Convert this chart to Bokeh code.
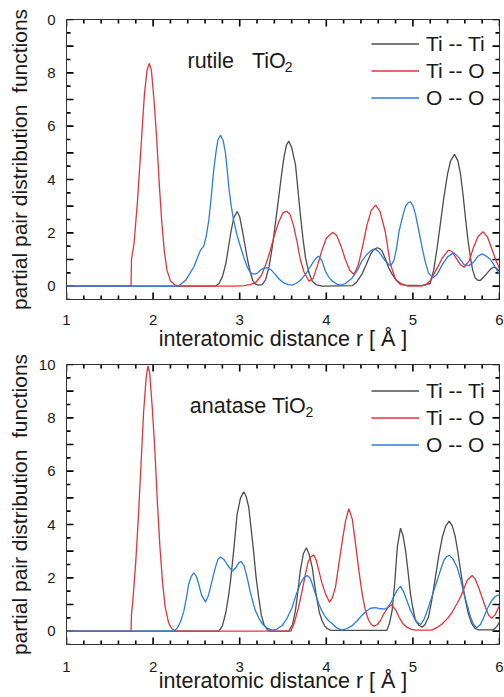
import numpy as np
from bokeh.plotting import figure
from bokeh.layouts import column
from bokeh.models import (FixedTicker, Range1d, Legend, LegendItem, Label, ColumnDataSource)
from bokeh.embed import file_html
from bokeh.resources import INLINE

# ---------------- data ----------------
series_labels = ["Ti -- Ti", "Ti -- O", "O -- O"]
panel_names = ["rutile\u00a0\u00a0\u00a0TiO", "anatase TiO"]
x_title = "interatomic distance r [ \u00c5 ]"
y_title = "partial pair distribution\u00a0 functions"

rut_titi_x = [1.0, 2.72, 2.76, 2.80, 2.84, 2.87, 2.90, 2.93, 2.97, 3.00, 3.03, 3.06, 3.09, 3.12, 3.15, 3.18, 3.22,
              3.26, 3.30, 3.34, 3.375, 3.41, 3.45, 3.48, 3.51, 3.54, 3.567, 3.60, 3.644, 3.67, 3.70, 3.73, 3.76, 3.80,
              3.837, 3.88, 3.95, 4.30, 4.35, 4.41, 4.46, 4.51, 4.55, 4.59, 4.62, 4.645, 4.68, 4.72, 4.76, 4.80, 4.86,
              4.91, 5.10, 5.20, 5.24, 5.28, 5.32, 5.357, 5.40, 5.434, 5.48, 5.52, 5.55, 5.58, 5.607, 5.635, 5.665,
              5.69, 5.72, 5.75, 5.78, 5.82, 5.86, 5.90, 5.93, 5.96, 6.0]
rut_titi_y = [0.0, 0.0, 0.1, 0.35, 0.85, 1.45, 2.05, 2.55, 2.80, 2.60, 2.10, 1.55, 1.00, 0.55, 0.22, 0.08, 0.04,
              0.06, 0.25, 0.75, 1.44, 2.3, 3.31, 4.1, 4.81, 5.3, 5.44, 5.2, 4.56, 3.7, 2.69, 1.8, 1.06, 0.5,
              0.19, 0.06, 0.0, 0.02, 0.15, 0.44, 0.8, 1.19, 1.38, 1.44, 1.4, 1.31, 1.05, 0.69, 0.45, 0.25, 0.1,
              0.04, 0.02, 0.1, 0.6, 1.44, 2.4, 3.31, 4.2, 4.69, 4.94, 4.7, 4.19, 3.4, 2.56, 1.75, 1.06,
              0.6, 0.31, 0.22, 0.22, 0.35, 0.5, 0.65, 0.71, 0.68, 0.56]

rut_tio_x = [1.0, 1.745, 1.75, 1.78, 1.82, 1.86, 1.90, 1.93, 1.955, 1.98, 2.01, 2.04, 2.07, 2.10, 2.13, 2.16, 2.20,
             2.25, 2.30, 2.95, 3.05, 3.12, 3.18, 3.25, 3.30, 3.35, 3.40, 3.45, 3.50, 3.54, 3.58, 3.62, 3.66, 3.70,
             3.74, 3.80, 3.85, 3.90, 3.95, 4.00, 4.075, 4.12, 4.17, 4.22, 4.27, 4.32, 4.37, 4.42, 4.47, 4.52, 4.57,
             4.62, 4.68, 4.74, 4.80, 4.85, 4.95, 5.10, 5.15, 5.20, 5.24, 5.30, 5.34, 5.41, 5.45, 5.50, 5.55, 5.59,
             5.65, 5.70, 5.75, 5.81, 5.86, 5.90, 5.95, 6.0]
rut_tio_y = [0.0, 0.0, 1.0, 1.6, 3.2, 5.2, 7.2, 8.1, 8.35, 8.1, 7.0, 5.6, 3.9, 2.4, 1.3, 0.6, 0.2,
             0.05, 0.0, 0.0, 0.02, 0.06, 0.12, 0.4, 0.8, 1.3, 1.9, 2.4, 2.75, 2.81, 2.7, 2.3, 1.7, 1.0,
             0.55, 0.19, 0.3, 0.8, 1.35, 1.8, 2.02, 1.9, 1.5, 1.0, 0.6, 0.44, 0.8, 1.5, 2.3, 2.85, 3.04,
             2.8, 2.06, 0.82, 0.25, 0.08, 0.0, 0.01, 0.05, 0.2, 0.44, 0.8, 1.06, 1.35, 1.3, 1.05, 0.8, 0.71,
             0.95, 1.45, 1.85, 2.04, 1.85, 1.5, 1.05, 0.64]

rut_oo_x = [1.0, 2.29, 2.33, 2.374, 2.42, 2.47, 2.51, 2.547, 2.585, 2.615, 2.643, 2.67, 2.70, 2.725, 2.747, 2.778,
            2.81, 2.836, 2.855, 2.874, 2.90, 2.93, 2.97, 3.01, 3.05, 3.087, 3.115, 3.144, 3.17, 3.20, 3.24, 3.28,
            3.317, 3.36, 3.41, 3.46, 3.51, 3.56, 3.606, 3.65, 3.70, 3.76, 3.81, 3.856, 3.89, 3.913, 3.95, 3.99,
            4.03, 4.07, 4.12, 4.164, 4.22, 4.30, 4.36, 4.41, 4.47, 4.53, 4.57, 4.61, 4.645, 4.68, 4.72, 4.745,
            4.78, 4.81, 4.84, 4.88, 4.915, 4.95, 4.972, 5.0, 5.03, 5.07, 5.107, 5.14, 5.18, 5.23, 5.28, 5.34,
            5.40, 5.47, 5.53, 5.59, 5.645, 5.70, 5.75, 5.80, 5.85, 5.896, 5.95, 6.0]
rut_oo_y = [0.0, 0.0, 0.1, 0.22, 0.45, 0.72, 1.05, 1.35, 1.5, 1.9, 2.47, 3.3, 4.35, 5.0, 5.47, 5.66,
            5.45, 4.98, 4.4, 3.72, 3.05, 2.47, 1.9, 1.47, 1.05, 0.72, 0.55, 0.47, 0.45, 0.48, 0.6, 0.68,
            0.69, 0.62, 0.44, 0.25, 0.12, 0.06, 0.04, 0.1, 0.22, 0.44, 0.7, 0.94, 1.08, 1.12, 0.95, 0.56,
            0.33, 0.19, 0.08, 0.04, 0.1, 0.31, 0.6, 0.94, 1.2, 1.37, 1.38, 1.28, 1.12, 0.95, 0.81, 0.78,
            0.95, 1.4, 2.06, 2.6, 3.0, 3.14, 3.16, 3.02, 2.69, 2.05, 1.44, 0.95, 0.5, 0.31, 0.45, 0.81,
            1.1, 1.25, 1.08, 0.81, 0.77, 0.9, 1.12, 1.21, 1.12, 1.0, 0.72, 0.44]

ana_titi_x = [1.0, 2.76, 2.80, 2.84, 2.87, 2.894, 2.93, 2.97, 3.01, 3.047, 3.075, 3.105, 3.13, 3.16, 3.19, 3.22,
              3.25, 3.28, 3.32, 3.36, 3.567, 3.61, 3.644, 3.67, 3.70, 3.735, 3.77, 3.80, 3.837, 3.865, 3.894, 3.92,
              3.95, 3.98, 4.01, 4.05, 4.70, 4.73, 4.76, 4.79, 4.82, 4.857, 4.885, 4.915, 4.945, 4.972, 5.0, 5.03,
              5.07, 5.107, 5.14, 5.18, 5.22, 5.26, 5.30, 5.34, 5.38, 5.42, 5.455, 5.49, 5.52, 5.55, 5.58, 5.607,
              5.64, 5.68, 5.72, 5.76, 5.93, 5.97, 6.0]
ana_titi_y = [0.0, 0.0, 0.2, 0.7, 1.3, 1.88, 3.0, 4.38, 5.0, 5.23, 5.05, 4.63, 3.9, 3.0, 2.0, 1.25,
              0.6, 0.25, 0.06, 0.0, 0.0, 0.25, 0.78, 1.45, 2.28, 2.9, 3.13, 2.9, 2.4, 1.75, 1.15, 0.7,
              0.4, 0.2, 0.1, 0.03, 0.03, 0.3, 0.78, 1.8, 3.15, 3.86, 3.6, 3.03, 2.2, 1.4, 0.85, 0.4,
              0.22, 0.15, 0.25, 0.53, 1.2, 2.03, 2.85, 3.53, 3.95, 4.13, 3.95, 3.53, 2.95, 2.28, 1.65, 1.15,
              0.65, 0.28, 0.1, 0.05, 0.05, 0.18, 0.34]

ana_tio_x = [1.0, 1.745, 1.75, 1.77, 1.80, 1.83, 1.86, 1.89, 1.92, 1.94, 1.96, 1.99, 2.02, 2.05, 2.08, 2.11, 2.14,
             2.18, 2.22, 2.26, 3.59, 3.63, 3.68, 3.72, 3.76, 3.79, 3.82, 3.856, 3.885, 3.913, 3.95, 3.99, 4.037,
             4.07, 4.106, 4.14, 4.18, 4.22, 4.26, 4.30, 4.337, 4.375, 4.414, 4.45, 4.49, 4.52, 4.55, 4.59, 4.626,
             4.664, 4.71, 4.753, 4.80, 4.84, 4.88, 4.93, 4.98, 5.03, 5.22, 5.28, 5.34, 5.40, 5.454, 5.50, 5.55,
             5.59, 5.626, 5.684, 5.72, 5.76, 5.80, 5.84, 5.875, 5.908, 5.95, 6.0]
ana_tio_y = [0.0, 0.0, 0.6, 1.3, 2.6, 4.3, 6.2, 8.2, 9.5, 9.95, 9.7, 8.4, 6.8, 4.8, 3.1, 1.8, 0.9,
             0.3, 0.08, 0.0, 0.0, 0.3, 0.9, 1.5, 2.15, 2.6, 2.78, 2.86, 2.65, 2.28, 1.8, 1.4, 1.09,
             1.25, 1.65, 2.4, 3.28, 4.1, 4.59, 4.2, 3.28, 2.3, 1.4, 0.8, 0.4, 0.25, 0.19, 0.25, 0.4,
             0.65, 0.88, 0.99, 0.8, 0.53, 0.3, 0.15, 0.07, 0.04, 0.04, 0.14, 0.28, 0.48, 0.71, 0.98, 1.28,
             1.6, 1.9, 2.09, 1.95, 1.63, 1.25, 0.88, 0.6, 0.48, 0.62, 0.96]

ana_oo_x = [1.0, 2.24, 2.28, 2.32, 2.355, 2.385, 2.41, 2.44, 2.47, 2.50, 2.528, 2.56, 2.605, 2.64, 2.68, 2.72,
            2.75, 2.778, 2.82, 2.855, 2.913, 2.96, 2.99, 3.017, 3.05, 3.087, 3.12, 3.16, 3.18, 3.22, 3.26, 3.31,
            3.375, 3.43, 3.49, 3.55, 3.606, 3.65, 3.70, 3.74, 3.78, 3.81, 3.837, 3.875, 3.913, 3.95, 3.99, 4.03,
            4.07, 4.12, 4.18, 4.24, 4.30, 4.36, 4.41, 4.46, 4.51, 4.57, 4.63, 4.68, 4.71, 4.74, 4.78, 4.82,
            4.857, 4.89, 4.93, 4.97, 5.01, 5.05, 5.09, 5.13, 5.18, 5.23, 5.28, 5.32, 5.357, 5.39, 5.42, 5.46,
            5.51, 5.55, 5.59, 5.63, 5.665, 5.70, 5.735, 5.78, 5.82, 5.86, 5.91, 5.95, 6.0]
ana_oo_y = [0.0, 0.0, 0.12, 0.38, 0.75, 1.25, 1.75, 2.05, 2.19, 2.05, 1.75, 1.35, 1.09, 1.35, 1.88, 2.4,
            2.7, 2.78, 2.68, 2.5, 2.25, 2.4, 2.56, 2.62, 2.45, 2.0, 1.5, 1.0, 0.78, 0.5, 0.28, 0.12,
            0.04, 0.08, 0.21, 0.5, 0.9, 1.35, 1.78, 2.0, 2.09, 2.0, 1.78, 1.4, 1.03, 0.75, 0.53, 0.38,
            0.28, 0.12, 0.04, 0.1, 0.21, 0.4, 0.59, 0.75, 0.86, 0.88, 0.84, 0.83, 0.9, 1.03, 1.3, 1.55,
            1.68, 1.5, 1.15, 0.8, 0.53, 0.33, 0.25, 0.45, 0.9, 1.4, 1.9, 2.3, 2.65, 2.8, 2.84, 2.72,
            2.4, 1.95, 1.4, 0.95, 0.53, 0.25, 0.13, 0.25, 0.53, 0.85, 1.15, 1.3, 1.37]

# axis ticks
x_major = [1, 2, 3, 4, 5, 6]
x_minor = [1.2, 1.4, 1.6, 1.8, 2.2, 2.4, 2.6, 2.8, 3.2, 3.4, 3.6, 3.8, 4.2, 4.4, 4.6, 4.8,
           5.2, 5.4, 5.6, 5.8]
y_labelled = [0, 2, 4, 6, 8, 10]
y_major = [0, 1, 2, 3, 4, 5, 6, 7, 8, 9, 10]
y_minor = [-0.5, 0.5, 1.5, 2.5, 3.5, 4.5, 5.5, 6.5, 7.5, 8.5, 9.5]

# ---------------- layout / styling ----------------
FONT = "Liberation Sans"
COLORS = ["#4d4d4d", "#e8323a", "#2b7de0"]
AX = "#333333"
TICK = "black"
TXT = "#1a1a1a"
XMIN, XMAX, YMIN, YMAX = 1, 6, -0.5, 10
W = 504
BL, BR = 66, 5
FRAME_W, FRAME_H = W - BL - BR, 280
PX_X = FRAME_W / (XMAX - XMIN)
PX_Y = FRAME_H / (YMAX - YMIN)
MAJ_LEN, MIN_LEN = 7, 4


def add_ticks(p):
    # inward ticks on all four sides, built from the tick arrays
    x0, y0, x1, y1 = [], [], [], []
    for xs, ln in ((x_major, MAJ_LEN), (x_minor, MIN_LEN)):
        dy = ln / PX_Y
        for v in xs:
            x0 += [float(v), float(v)]
            x1 += [float(v), float(v)]
            y0 += [float(YMIN), float(YMAX)]
            y1 += [YMIN + dy, YMAX - dy]
    for ys, ln in ((y_major, MAJ_LEN), (y_minor, MIN_LEN)):
        dx = ln / PX_X
        for v in ys:
            x0 += [float(XMIN), float(XMAX)]
            x1 += [XMIN + dx, XMAX - dx]
            y0 += [float(v), float(v)]
            y1 += [float(v), float(v)]
    src = ColumnDataSource(dict(x0=x0, y0=y0, x1=x1, y1=y1))
    p.segment(x0="x0", y0="y0", x1="x1", y1="y1", source=src, line_color=TICK, line_width=1.6)


def make_panel(data, height, top_border, bottom_border, top_override,
               xlab_standoff, xtitle_standoff, ytitle_standoff, legend_y):
    p = figure(width=W, height=height, x_range=Range1d(XMIN, XMAX), y_range=Range1d(YMIN, YMAX),
               output_backend="svg", toolbar_location=None,
               min_border_left=BL, min_border_right=BR,
               min_border_top=top_border, min_border_bottom=bottom_border)
    p.xgrid.visible = False
    p.ygrid.visible = False
    p.outline_line_color = AX
    p.outline_line_width = 1
    p.background_fill_color = "white"
    p.border_fill_color = "white"

    for ax, ticks in ((p.xaxis[0], x_major), (p.yaxis[0], y_labelled)):
        ax.ticker = FixedTicker(ticks=ticks, minor_ticks=[])
        ax.axis_line_color = AX
        ax.major_tick_in = 0
        ax.major_tick_out = 0
        ax.minor_tick_in = 0
        ax.minor_tick_out = 0
        ax.major_label_text_font = FONT
        ax.major_label_text_font_size = "15px"
        ax.major_label_text_color = TXT
        ax.axis_label_text_font = FONT
        ax.axis_label_text_font_style = "normal"
        ax.axis_label_text_color = TXT
    xa, ya = p.xaxis[0], p.yaxis[0]
    xa.axis_label = x_title
    xa.axis_label_text_font_size = "21.5px"
    xa.major_label_standoff = xlab_standoff
    xa.axis_label_standoff = xtitle_standoff
    ya.axis_label = y_title
    ya.axis_label_text_font_size = "21px"
    ya.major_label_standoff = 11
    ya.axis_label_standoff = ytitle_standoff
    if top_override:
        ya.major_label_overrides = top_override

    add_ticks(p)

    items = []
    for (xs, ys), lab, col in zip(data, series_labels, COLORS):
        src = ColumnDataSource(dict(x=[float(v) for v in xs], y=[float(v) for v in ys]))
        r = p.line("x", "y", source=src, line_color=col, line_width=1.3)
        items.append(LegendItem(label=lab, renderers=[r]))

    leg = Legend(items=items, location=(305, legend_y), orientation="vertical",
                 glyph_width=48, glyph_height=27, label_height=27, label_standoff=7,
                 spacing=0, padding=0, margin=0,
                 label_text_font=FONT, label_text_font_size="21px", label_text_color=TXT,
                 border_line_color=None, background_fill_alpha=0)
    p.add_layout(leg)
    return p


top = make_panel([(rut_titi_x, rut_titi_y), (rut_tio_x, rut_tio_y), (rut_oo_x, rut_oo_y)],
                 height=355, top_border=19, bottom_border=56, top_override={10: "0"},
                 xlab_standoff=15, xtitle_standoff=-1, ytitle_standoff=13, legend_y=188)
top.add_layout(Label(x=2.397, y=8.44, text=panel_names[0], text_font=FONT, text_font_size="21.5px",
                     text_color=TXT, text_baseline="alphabetic"))
top.add_layout(Label(x=3.52, y=8.22, text="2", text_font=FONT, text_font_size="14px",
                     text_color=TXT, text_baseline="alphabetic"))

bot = make_panel([(ana_titi_x, ana_titi_y), (ana_tio_x, ana_tio_y), (ana_oo_x, ana_oo_y)],
                 height=342, top_border=9, bottom_border=53, top_override={},
                 xlab_standoff=17, xtitle_standoff=-6, ytitle_standoff=5, legend_y=186)
bot.add_layout(Label(x=2.424, y=8.44, text=panel_names[1], text_font=FONT, text_font_size="21.5px",
                     text_color=TXT, text_baseline="alphabetic"))
bot.add_layout(Label(x=3.76, y=8.22, text="2", text_font=FONT, text_font_size="14px",
                     text_color=TXT, text_baseline="alphabetic"))

layout = column(top, bot, spacing=0)
open("out.html", "w").write(file_html(layout, INLINE))
